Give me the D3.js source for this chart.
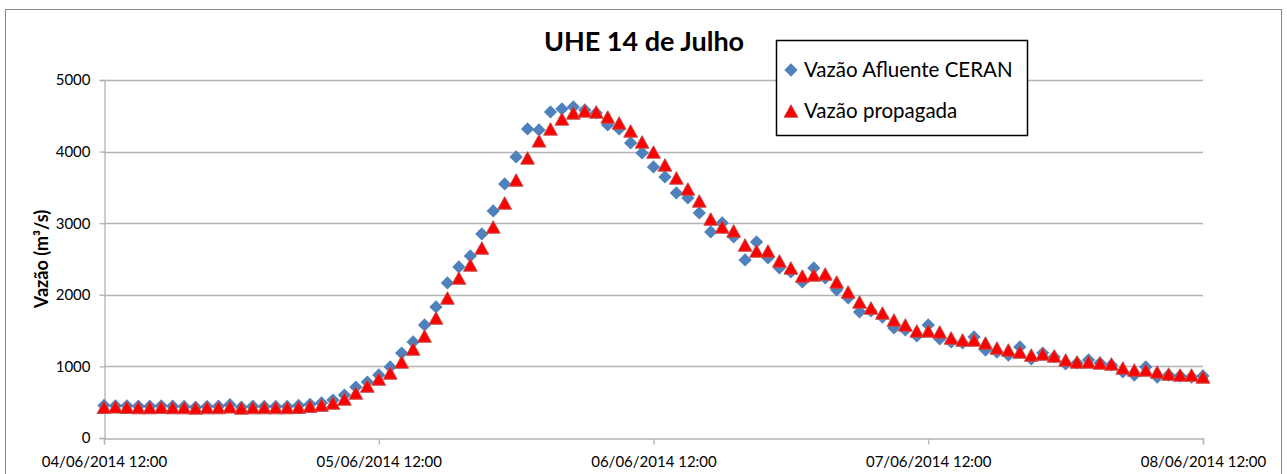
<!DOCTYPE html>
<html>
<head>
<meta charset="utf-8">
<script src="https://cdn.jsdelivr.net/npm/d3@7"></script>
<style>
  body { margin: 0; background: #fff; }
  text { font-family: Lato, "Open Sans", sans-serif; }
</style>
</head>
<body>
<svg id="chart" width="1287" height="474"></svg>
<script>
// hourly series, 04/06/2014 12:00 .. 08/06/2014 12:00
const inicio = new Date(2014, 5, 4, 12, 0);
const fim = new Date(2014, 5, 8, 12, 0);

const vazaoAfluente = [
  455, 450, 450, 445, 445, 450, 445, 440, 430, 440, 445, 465, 430, 445, 440, 440,
  440, 455, 470, 490, 530, 600, 712, 782, 880, 992, 1187, 1341, 1579, 1830, 2165, 2389,
  2543, 2850, 3171, 3548, 3926, 4317, 4303, 4554, 4596, 4624, 4582, 4540, 4373, 4317, 4121, 3981,
  3786, 3646, 3423, 3353, 3143, 2878, 3004, 2808, 2487, 2738, 2515, 2375, 2319, 2179, 2375, 2235,
  2068, 1956, 1760, 1774, 1690, 1537, 1509, 1425, 1579, 1383, 1341, 1327, 1411, 1229, 1201, 1159,
  1271, 1104, 1187, 1132, 1034, 1048, 1090, 1048, 1020, 922, 880, 992, 852, 880, 866, 852,
  866
];

const vazaoPropagada = [
  430, 435, 430, 425, 425, 430, 425, 425, 420, 425, 425, 435, 420, 425, 425, 425,
  425, 430, 445, 460, 489, 545, 629, 726, 824, 908, 1062, 1243, 1425, 1676, 1956, 2235,
  2417, 2654, 2948, 3283, 3604, 3912, 4150, 4317, 4456, 4540, 4568, 4554, 4484, 4400, 4289, 4135,
  3995, 3814, 3632, 3478, 3311, 3059, 2948, 2892, 2696, 2612, 2612, 2473, 2375, 2263, 2277, 2291,
  2179, 2040, 1900, 1816, 1746, 1648, 1579, 1495, 1495, 1481, 1397, 1369, 1369, 1327, 1257, 1229,
  1201, 1159, 1173, 1146, 1090, 1062, 1062, 1048, 1034, 978, 950, 950, 922, 894, 880, 880,
  852
];

const yTicks = [0, 1000, 2000, 3000, 4000, 5000];
const titulo = "UHE 14 de Julho";
const tituloY = "Vazão (m³/s)";
const legendas = ["Vazão Afluente CERAN", "Vazão propagada"];

const horas = d3.timeHour.range(inicio, d3.timeHour.offset(fim, 1));
const dias = d3.timeDay.range(inicio, d3.timeHour.offset(fim, 1)).map(d => d3.timeHour.offset(d, 12));
dias.unshift(inicio);

const svg = d3.select('#chart');
const plot = { left: 104, right: 1203, top: 80, bottom: 438 };

// outer frame
svg.append('rect')
  .attr('x', 5.5).attr('y', 9.5)
  .attr('width', 1276).attr('height', 480)
  .attr('fill', '#fff')
  .attr('stroke', '#868686')
  .attr('stroke-width', 1);

const x = d3.scaleTime()
  .domain([inicio, fim])
  .range([plot.left, plot.right]);

const y = d3.scaleLinear()
  .domain([0, 5000])
  .range([plot.bottom, plot.top]);

// gridlines
svg.append('g')
  .selectAll('line')
  .data(yTicks.filter(d => d > 0))
  .enter()
  .append('line')
  .attr('x1', plot.left).attr('x2', plot.right)
  .attr('y1', d => Math.round(y(d)) + 0.5)
  .attr('y2', d => Math.round(y(d)) + 0.5)
  .attr('stroke', '#b3b3b3')
  .attr('stroke-width', 1.3);

// y axis
const yAxis = svg.append('g')
  .attr('transform', `translate(${plot.left + 0.5},0)`)
  .call(d3.axisLeft(y).tickValues(yTicks).tickSize(5).tickPadding(9).tickFormat(d3.format('d')));
yAxis.select('.domain').attr('stroke', '#b3b3b3').attr('stroke-width', 1.3);
yAxis.selectAll('.tick line').attr('stroke', '#b3b3b3').attr('stroke-width', 1.3);
yAxis.selectAll('.tick text')
  .style('font-size', '15px')
  .attr('fill', '#000');

// x axis
const xAxis = svg.append('g')
  .attr('transform', `translate(0,${plot.bottom + 0.5})`)
  .call(d3.axisBottom(x).tickValues(dias).tickSize(6).tickPadding(12).tickFormat(d3.timeFormat('%d/%m/%Y %H:%M')));
xAxis.select('.domain').attr('stroke', '#b3b3b3').attr('stroke-width', 1.3);
xAxis.selectAll('.tick line').attr('stroke', '#b3b3b3').attr('stroke-width', 1.3);
xAxis.selectAll('.tick text')
  .style('font-size', '15px')
  .attr('fill', '#000');

// markers
const diamante = d3.symbol().type(d3.symbolSquare).size(88);
function triangulo(s) {
  return `M0,${-s * 0.5}L${s * 0.55},${s * 0.5}L${-s * 0.55},${s * 0.5}Z`;
}

svg.append('g')
  .selectAll('path')
  .data(vazaoAfluente)
  .enter()
  .append('path')
  .attr('d', diamante())
  .attr('transform', (d, i) => `translate(${x(horas[i])},${y(d)}) rotate(45)`)
  .attr('fill', '#4f81bd');

svg.append('g')
  .selectAll('path')
  .data(vazaoPropagada)
  .enter()
  .append('path')
  .attr('d', triangulo(12.5))
  .attr('transform', (d, i) => `translate(${x(horas[i])},${y(d)})`)
  .attr('fill', '#ff0000')
  .attr('stroke', '#c0504d')
  .attr('stroke-width', 1);

// title
svg.append('text')
  .attr('x', 644).attr('y', 51)
  .attr('text-anchor', 'middle')
  .style('font-size', '27px')
  .style('font-weight', 'bold')
  .text(titulo);

// y title
svg.append('text')
  .attr('transform', 'translate(48,259) rotate(-90)')
  .attr('text-anchor', 'middle')
  .style('font-size', '18px')
  .style('font-weight', 'bold')
  .text(tituloY);

// legend
const leg = svg.append('g');
leg.append('rect')
  .attr('x', 776.5).attr('y', 40.5)
  .attr('width', 251).attr('height', 95)
  .attr('fill', '#fff')
  .attr('stroke', '#000')
  .attr('stroke-width', 1.5);

leg.append('path')
  .attr('d', diamante())
  .attr('transform', 'translate(791,70) rotate(45)')
  .attr('fill', '#4f81bd');
leg.append('path')
  .attr('d', triangulo(12.5))
  .attr('transform', 'translate(791,111)')
  .attr('fill', '#ff0000')
  .attr('stroke', '#c0504d');

leg.selectAll('text.leg')
  .data(legendas)
  .enter()
  .append('text')
  .attr('class', 'leg')
  .attr('x', 804)
  .attr('y', (d, i) => 77 + i * 41)
  .style('font-size', '20.5px')
  .text(d => d);
</script>
</body>
</html>
